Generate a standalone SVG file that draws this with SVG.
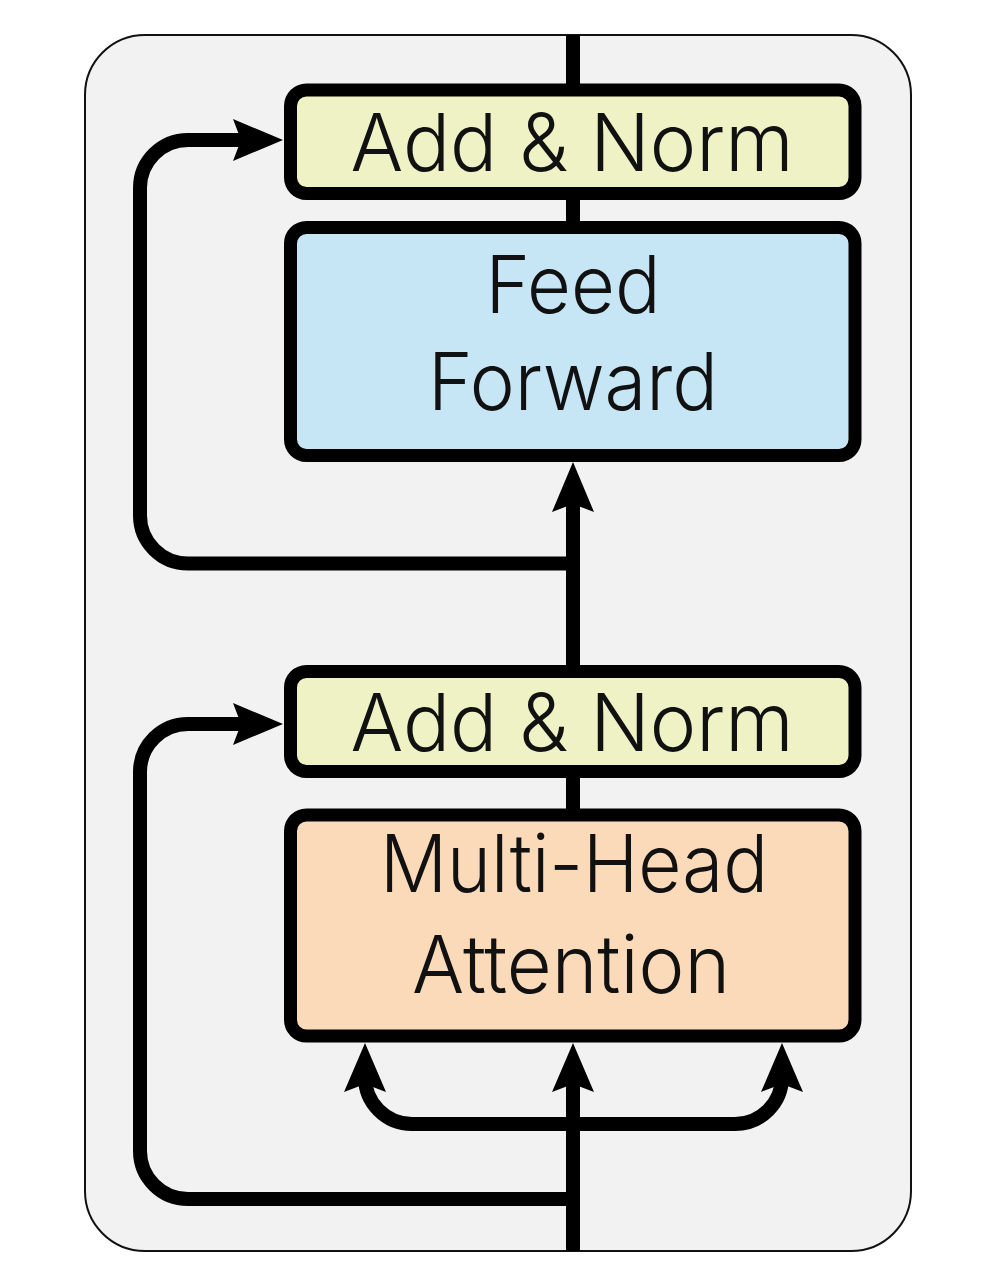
<svg xmlns="http://www.w3.org/2000/svg" width="986" height="1282" viewBox="0 0 986 1282">
  <defs>
    <style>
      .box { stroke: #000; stroke-width: 13; }
      .an { fill: #EEF2C4; }
      .ff { fill: #C6E5F5; }
      .mha { fill: #FADAB8; }
      .lbl { font-family: Inter, "Liberation Sans", sans-serif; font-weight: 300; font-size: 80px; fill: #111; text-anchor: middle; }
      .wire { fill: none; stroke: #000; stroke-width: 14; stroke-linejoin: round; }
      .head { fill: #000; }
    </style>
  </defs>
  <rect x="85" y="35" width="826" height="1216" rx="60" fill="#F2F2F2" stroke="#111" stroke-width="2"/>
  <g id="connectors">
    <path class="wire" d="M573 35 V92"/>
    <path class="wire" d="M573 192 V229"/>
    <path class="wire" d="M573 672 V500"/>
    <path class="head" d="M573 462 L594 512 L573 504 L552 512 Z"/>
    <path class="wire" d="M573 770 V817"/>
    <path class="wire" d="M573 1251 V1082"/>
    <path class="head" d="M573 1043 L594 1092 L573 1084 L552 1092 Z"/>
    <path class="wire" d="M573 563.5 H188 A48 48 0 0 1 140 515.5 V188 A48 48 0 0 1 188 140 H245"/>
    <path class="head" d="M283 140 L233 119 L241 140 L233 161 Z"/>
    <path class="wire" d="M573 1199 H188 A48 48 0 0 1 140 1151 V772 A48 48 0 0 1 188 724 H245"/>
    <path class="head" d="M283 724 L233 703 L241 724 L233 745 Z"/>
    <path class="wire" d="M573 1124 H412 A47 47 0 0 1 365 1077 V1082"/>
    <path class="head" d="M365 1043 L386 1092 L365 1084 L344 1092 Z"/>
    <path class="wire" d="M573 1124 H735 A47 47 0 0 0 782 1077 V1082"/>
    <path class="head" d="M782 1043 L803 1092 L782 1084 L761 1092 Z"/>
  </g>
  <g id="add-norm-top">
    <rect class="box an" x="290.5" y="90" width="564.5" height="103.5" rx="16"/>
    <text class="lbl" x="572" y="171" textLength="443" lengthAdjust="spacingAndGlyphs">Add &amp; Norm</text>
  </g>
  <g id="feed-forward">
    <rect class="box ff" x="290.5" y="227.5" width="564.5" height="228" rx="16"/>
    <text class="lbl" x="573" y="313" textLength="175" lengthAdjust="spacingAndGlyphs">Feed</text>
    <text class="lbl" x="573" y="410" textLength="290" lengthAdjust="spacingAndGlyphs">Forward</text>
  </g>
  <g id="add-norm-bottom">
    <rect class="box an" x="290.5" y="671.5" width="564.5" height="100" rx="16"/>
    <text class="lbl" x="572" y="751" textLength="443" lengthAdjust="spacingAndGlyphs">Add &amp; Norm</text>
  </g>
  <g id="multi-head-attention">
    <rect class="box mha" x="290.5" y="815" width="564.5" height="221" rx="16"/>
    <text class="lbl" x="574" y="892" textLength="388" lengthAdjust="spacingAndGlyphs">Multi-Head</text>
    <text class="lbl" x="571" y="993" textLength="318" lengthAdjust="spacingAndGlyphs">Attention</text>
  </g>
</svg>
